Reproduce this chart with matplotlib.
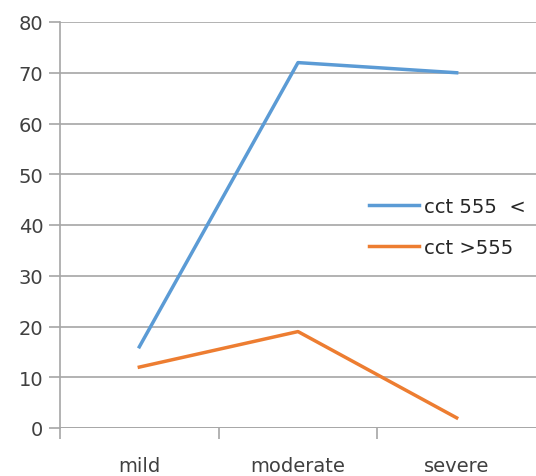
import matplotlib.pyplot as plt
import numpy as np

categories = ['mild', 'moderate', 'severe']
cct_below = [16, 72, 70]
cct_above = [12, 19, 2]
y_ticks = [0, 10, 20, 30, 40, 50, 60, 70, 80]

plt.rcParams['font.family'] = ['DejaVu Sans']

fig = plt.figure(figsize=(5.36, 4.77), dpi=100)
ax = fig.add_axes([60 / 536, 48 / 477, 476 / 536, 406 / 477])

x = np.arange(len(categories))
ax.plot(x, cct_below, color='#5b9bd5', lw=2.5, label='cct 555  <')
ax.plot(x, cct_above, color='#ed7d31', lw=2.5, label='cct >555')

ax.set_xlim(-0.5, len(categories) - 0.5)
ax.set_ylim(0, 80)
ax.set_yticks(y_ticks)
ax.set_xticks(x)
ax.set_xticklabels(categories)
# category boundary ticks (right edge falls off the picture)
ax.set_xticks(np.arange(-0.5, len(categories) - 1), minor=True)

# gridlines and axes in Excel grey
ax.grid(axis='y', color='#a6a6a6', lw=1.2)
ax.set_axisbelow(True)
for side in ['top', 'right', 'bottom']:
    ax.spines[side].set_visible(False)
ax.spines['left'].set_color('#a6a6a6')
ax.spines['left'].set_linewidth(1.2)
ax.axhline(0, color='#a6a6a6', lw=1.2, zorder=1)

ax.tick_params(axis='y', length=8, color='#a6a6a6', width=1.2,
               labelsize=14, labelcolor='#404040', pad=4)
ax.tick_params(axis='x', which='major', length=0, labelsize=14,
               labelcolor='#404040', pad=20)
ax.tick_params(axis='x', which='minor', length=8, color='#a6a6a6', width=1.2)

ax.legend(loc='center left', bbox_to_anchor=(0.628, 0.495), frameon=False,
          fontsize=14, handlelength=2.6, handletextpad=0.25, borderpad=0,
          labelspacing=1.15, labelcolor='#262626')

fig.savefig('out.png', dpi=100)
